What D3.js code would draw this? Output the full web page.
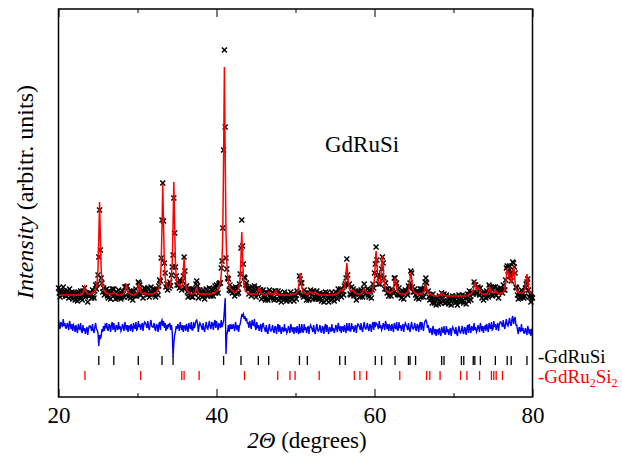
<!DOCTYPE html>
<html>
<head>
<meta charset="utf-8">
<script src="https://cdn.jsdelivr.net/npm/d3@7"></script>
<style>
  body { margin: 0; background: #fff; }
  svg { display: block; }
  text { font-family: "Liberation Serif", "Times New Roman", serif; }
</style>
</head>
<body>
<svg width="622" height="463"></svg>
<script>
// 2theta grid: 20 .. 80 deg, step 0.1
var start = 20, step = 0.1;

// calculated profile (arbitrary units), one row per degree
var calc = [
  102,102,102,102,102,102,102,102,102,102, // 20
  102,102,102,102,102,102,102,102,102,102, // 21
  102,102,102,102,102,102,102,102,102,103, // 22
  103,104,107,110,107,105,104,103,103,103, // 23
  103,103,103,104,104,105,106,108,110,116, // 24
  128,159,195,159,128,116,110,108,106,105, // 25
  104,104,103,103,103,103,103,103,103,104, // 26
  104,104,103,103,102,102,102,102,102,102, // 27
  102,103,103,104,105,109,113,109,105,104, // 28
  103,103,103,102,102,102,102,103,103,104, // 29
  105,109,114,109,105,104,103,103,103,104, // 30
  104,103,103,103,103,103,103,103,103,103, // 31
  103,104,104,104,105,106,107,109,112,119, // 32
  134,170,213,170,135,120,114,111,109,109, // 33
  109,111,114,120,135,172,215,172,135,120, // 34
  114,112,112,113,111,109,110,114,126,139, // 35
  125,113,108,106,105,104,104,103,103,103, // 36
  103,103,104,104,107,109,107,104,103,103, // 37
  103,103,103,103,103,103,103,103,103,103, // 38
  103,103,103,103,103,104,104,104,104,105, // 39
  106,106,107,109,112,115,122,136,166,241, // 40
  330,241,166,136,123,116,112,109,108,107, // 41
  106,106,105,105,105,106,106,107,109,112, // 42
  120,141,165,140,120,112,108,106,105,104, // 43
  104,104,103,103,103,103,103,103,103,103, // 44
  103,103,104,107,109,107,104,103,103,103, // 45
  102,102,102,103,103,104,105,104,103,103, // 46
  103,103,103,103,105,107,105,103,103,102, // 47
  102,102,102,102,102,102,102,102,102,102, // 48
  102,102,102,102,102,102,103,103,103,103, // 49
  103,104,105,107,111,118,124,118,111,107, // 50
  105,104,104,103,103,103,103,104,105,105, // 51
  105,104,103,104,104,105,104,103,103,102, // 52
  102,102,102,102,102,102,102,102,102,102, // 53
  102,102,102,102,102,102,102,102,102,102, // 54
  103,103,103,103,104,104,106,107,106,106, // 55
  106,107,109,115,125,134,125,115,109,107, // 56
  106,106,106,107,106,104,104,103,103,103, // 57
  103,103,103,103,104,105,107,108,107,105, // 58
  104,104,104,104,104,104,104,105,108,112, // 59
  119,133,146,134,121,115,113,114,119,131, // 60
  141,130,118,111,108,106,106,105,105,104, // 61
  104,105,105,107,109,115,119,115,109,106, // 62
  105,104,103,103,103,103,103,103,103,103, // 63
  104,104,105,107,111,119,125,119,111,107, // 64
  105,104,104,103,103,103,103,103,103,103, // 65
  103,104,104,106,109,112,109,106,104,103, // 66
  103,103,102,102,102,101,101,101,101,101, // 67
  101,101,102,102,103,104,103,102,102,101, // 68
  101,101,101,101,101,101,101,101,101,101, // 69
  101,101,101,101,101,101,101,101,101,101, // 70
  101,101,101,101,101,101,101,101,101,102, // 71
  103,103,103,104,105,107,111,115,112,108, // 72
  107,108,109,107,105,104,103,103,103,103, // 73
  103,103,103,104,105,108,110,108,105,104, // 74
  104,104,105,107,105,104,104,103,103,103, // 75
  104,104,104,105,106,109,113,121,129,125, // 76
  121,122,118,115,117,124,131,123,114,108, // 77
  107,105,105,104,104,104,104,104,104,105, // 78
  107,110,117,123,117,110,107,105,104,103, // 79
  103                                      // 80
];

// difference obs - calc, same grid
var diff = [
  7,2,-2,5,3,0,8,1,4,-1,         // 20
  -1,4,1,-3,6,2,-2,3,-4,2,       // 21
  0,-5,2,-2,-6,3,-1,-3,4,-4,     // 22
  -6,2,-4,-1,-7,-3,0,-8,-2,1,    // 23
  1,-1,-4,3,-3,-6,0,4,-2,-3,     // 24
  -6,-19,-8,-12,-9,-2,-5,1,-4,2, // 25
  0,4,-2,-4,3,1,-5,2,5,-3,       // 26
  4,-1,-5,2,0,-3,5,-2,1,-4,      // 27
  -2,3,0,-4,5,1,-3,2,-5,1,       // 28
  1,-4,3,-1,-5,4,0,-2,5,-3,      // 29
  -2,6,0,3,-3,1,4,-4,2,5,        // 30
  4,2,-1,6,0,-3,3,7,1,0,         // 31
  0,4,-2,-4,3,1,-5,2,5,-3,       // 32
  5,7,1,6,-1,4,-4,2,-2,3,        // 33
  0,4,-3,2,-5,-30,-16,-8,-5,1,   // 34
  -2,3,0,-4,5,1,-3,2,-5,1,       // 35
  1,-4,3,-1,-5,4,0,-2,5,-3,      // 36
  -3,5,-1,2,6,7,4,-5,1,4,        // 37
  2,0,-3,4,-2,-5,1,5,-1,-2,      // 38
  2,6,0,-2,5,3,-3,4,7,-1,        // 39
  6,1,-3,4,2,-1,7,0,3,6,         // 40
  17,29,-27,-8,-4,2,-5,3,-2,1,   // 41
  -2,3,0,-4,5,1,-3,2,-5,1,       // 42
  3,8,12,11,13,8,11,6,9,4,       // 43
  4,-1,6,2,-2,7,3,1,8,0,         // 44
  -3,5,-1,2,-4,0,3,-5,1,4,       // 45
  0,-2,-5,2,-4,-7,-1,3,-3,-4,    // 46
  -2,2,-4,-6,1,-1,-7,0,3,-5,     // 47
  2,-3,-7,0,-2,-5,3,-4,-1,-6,    // 48
  -4,1,-2,-6,3,-1,-5,0,-7,-1,    // 49
  -1,-6,1,-3,-7,3,-6,-4,3,-5,    // 50
  -5,3,-3,0,-6,-2,1,-7,-1,2,     // 51
  0,-2,-5,2,-4,-7,-1,3,-3,-4,    // 52
  -2,2,-4,-6,1,-1,-7,0,3,-5,     // 53
  2,-3,-7,0,-2,-5,3,-4,-1,-6,    // 54
  -3,2,-1,-5,4,0,-4,1,-6,0,      // 55
  0,-5,2,-2,-6,4,-3,-3,4,-4,     // 56
  -4,4,-2,1,-5,-1,2,-6,0,3,      // 57
  2,0,-3,4,-2,-5,1,5,-1,-2,      // 58
  0,4,-2,-4,3,1,-5,2,5,-3,       // 59
  5,0,4,3,1,-2,6,-1,2,-3,        // 60
  -1,4,1,-3,6,2,-2,3,-4,2,       // 61
  1,-4,3,-1,-5,4,0,-2,5,-3,      // 62
  -3,5,-1,2,-4,0,3,-5,1,4,       // 63
  2,0,-3,4,-2,-5,1,5,-1,-2,      // 64
  0,4,-2,-4,3,1,-5,2,5,-3,       // 65
  5,0,-4,3,6,7,5,-1,2,-3,        // 66
  -6,-1,-4,-8,1,-3,-7,-2,-9,-3,  // 67
  -3,-8,-1,-5,-9,0,-4,-6,1,-7,   // 68
  -7,1,-5,-2,-8,-4,-1,-9,-3,0,   // 69
  -2,-4,-7,0,-6,-9,-3,1,-5,-6,   // 70
  -3,1,-5,-7,0,-2,-8,-1,2,-6,    // 71
  3,-2,-6,1,-1,-4,4,-3,0,-5,     // 72
  -3,2,-1,-5,4,0,-4,1,-6,0,      // 73
  1,-4,3,-1,-5,4,0,-2,5,-3,      // 74
  -2,6,0,3,-3,1,4,-4,2,5,        // 75
  5,3,0,7,1,-2,4,8,2,1,          // 76
  5,9,3,1,8,11,3,7,10,2,         // 77
  2,-3,-7,0,-2,-5,3,-4,-1,-6,    // 78
  -6,-1,-4,-8,1,-3,-7,-2,-9,-3,  // 79
  -4                             // 80
];

// Bragg reflection positions (2theta)
var braggGdRuSi = [25.1, 27.0, 30.1, 33.1, 34.5, 40.9, 43.1, 45.3, 46.6, 50.5, 51.5,
  55.6, 56.3, 60.1, 60.9, 62.6, 64.3, 64.5, 65.2, 68.5, 68.8, 71.0, 71.3, 72.5,
  72.7, 73.4, 75.3, 76.8, 77.3, 79.3];
var braggGdRu2Si2 = [23.35, 30.4, 35.6, 35.9, 37.8, 43.55, 47.75, 49.3, 49.95, 53.0,
  57.45, 58.15, 59.0, 63.2, 66.6, 67.0, 68.3, 70.9, 71.7, 73.3, 74.8, 75.1, 75.4, 76.2];

var xMajor = [20, 40, 60, 80];
var xMinor = [30, 50, 70];

var diffZero = 70; // where the difference curve sits, in intensity units

var svg = d3.select("svg");
var plotLeft = 58.5, plotRight = 532.5, plotTop = 9, plotBottom = 397;

var x = d3.scaleLinear().domain([20, 80]).range([plotLeft, plotRight]);
var y = d3.scaleLinear().domain([0, 388]).range([plotBottom, plotTop]);

var pts = calc.map(function (c, i) {
  return { t: start + i * step, calc: c, diff: diff[i], obs: c + diff[i] };
});

// observed points as small crosses
svg.append("g")
  .selectAll("path")
  .data(pts)
  .enter()
  .append("path")
  .attr("d", "M-2.5,-2.5L2.5,2.5M-2.5,2.5L2.5,-2.5")
  .attr("transform", function (d) { return "translate(" + x(d.t) + "," + y(d.obs) + ")"; })
  .attr("stroke", "#000")
  .attr("stroke-width", 1.5)
  .attr("fill", "none");

// calculated line
svg.append("path")
  .datum(pts)
  .attr("d", d3.line().x(function (d) { return x(d.t); }).y(function (d) { return y(d.calc); }))
  .attr("fill", "none")
  .attr("stroke", "#ff0000")
  .attr("stroke-width", 1.5);

// difference curve
svg.append("path")
  .datum(pts)
  .attr("d", d3.line().x(function (d) { return x(d.t); }).y(function (d) { return y(diffZero + d.diff); }))
  .attr("fill", "none")
  .attr("stroke", "#0000ff")
  .attr("stroke-width", 1.4);

// Bragg ticks
function bragg(list, lo, hi, color) {
  svg.append("g")
    .selectAll("line")
    .data(list)
    .enter()
    .append("line")
    .attr("x1", function (d) { return x(d); })
    .attr("x2", function (d) { return x(d); })
    .attr("y1", y(lo))
    .attr("y2", y(hi))
    .attr("stroke", color)
    .attr("stroke-width", 1.3);
}
bragg(braggGdRuSi, 32, 41, "#000");
bragg(braggGdRu2Si2, 17, 26, "#ff0000");

// axes: inward ticks on bottom and top
function styleAxis(g) {
  g.attr("font-family", null).attr("font-size", null);
  g.select(".domain").remove();
  g.selectAll("line").attr("stroke", "#000").attr("stroke-width", 1);
  g.selectAll("text")
    .style("font-family", "'Liberation Serif', 'Times New Roman', serif")
    .attr("font-size", 23)
    .attr("fill", "#000");
}
svg.append("g").attr("transform", "translate(0," + plotBottom + ")")
  .call(d3.axisBottom(x).tickValues(xMajor).tickSize(-8).tickPadding(10).tickFormat(d3.format("d")))
  .call(styleAxis);
svg.append("g").attr("transform", "translate(0," + plotBottom + ")")
  .call(d3.axisBottom(x).tickValues(xMinor).tickSize(-4).tickFormat(""))
  .call(styleAxis);
svg.append("g").attr("transform", "translate(0," + plotTop + ")")
  .call(d3.axisTop(x).tickValues(xMajor).tickSize(-8).tickFormat(""))
  .call(styleAxis);
svg.append("g").attr("transform", "translate(0," + plotTop + ")")
  .call(d3.axisTop(x).tickValues(xMinor).tickSize(-4).tickFormat(""))
  .call(styleAxis);

// frame
svg.append("rect")
  .attr("x", plotLeft).attr("y", plotTop)
  .attr("width", plotRight - plotLeft).attr("height", plotBottom - plotTop)
  .attr("fill", "none").attr("stroke", "#000").attr("stroke-width", 1.5);

// axis titles
var xt = svg.append("text")
  .attr("x", 307).attr("y", 448)
  .attr("text-anchor", "middle")
  .attr("font-size", 23);
xt.append("tspan").attr("font-style", "italic").text("2\u0398");
xt.append("tspan").text(" (degrees)");

var yt = svg.append("text")
  .attr("transform", "translate(33,192) rotate(-90)")
  .attr("text-anchor", "middle")
  .attr("font-size", 24);
yt.append("tspan").attr("font-style", "italic").text("Intensity");
yt.append("tspan").text(" (arbitr. units)");

// sample label
svg.append("text")
  .attr("x", 325).attr("y", 152)
  .attr("font-size", 23)
  .text("GdRuSi");

// phase legend
svg.append("text")
  .attr("x", 538).attr("y", 363)
  .attr("font-size", 19)
  .attr("fill", "#000")
  .text("-GdRuSi");

var lg = svg.append("text")
  .attr("x", 538).attr("y", 383)
  .attr("font-size", 19)
  .attr("fill", "#ff0000");
lg.append("tspan").text("-GdRu");
lg.append("tspan").attr("font-size", 12).attr("dy", 4).text("2");
lg.append("tspan").attr("dy", -4).text("Si");
lg.append("tspan").attr("font-size", 12).attr("dy", 4).text("2");
</script>
</body>
</html>
